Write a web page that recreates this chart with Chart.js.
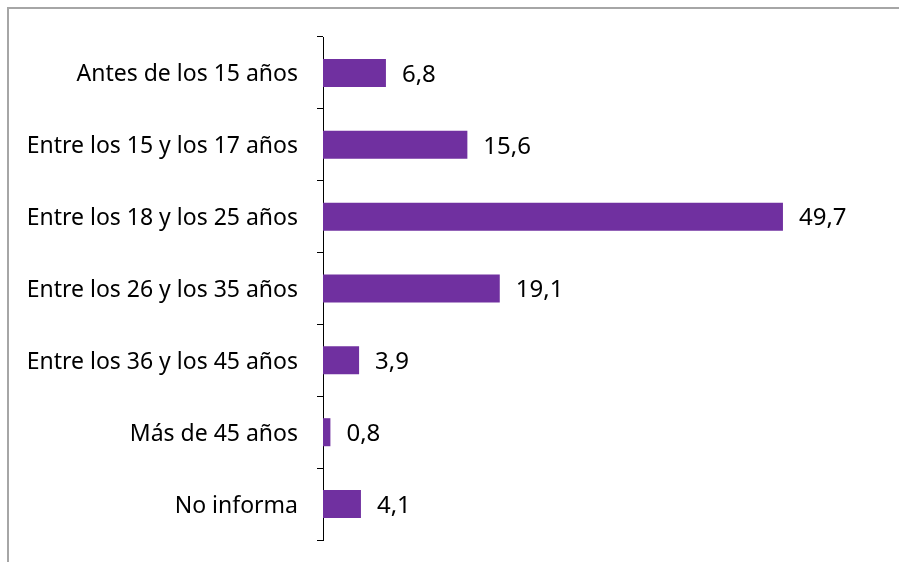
<!DOCTYPE html>
<html>
<head>
<meta charset="utf-8">
<script src="https://cdn.jsdelivr.net/npm/chart.js@4"></script>
<style>
  html, body { margin: 0; background: #fff; overflow: hidden; }
  #wrap { position: relative; width: 899px; height: 562px; overflow: hidden; }
  #frame { position: absolute; left: 7px; top: 7px; width: 900px; height: 560px;
           border-left: 2px solid #a6a6a6; border-top: 2px solid #a6a6a6; }
  canvas { position: absolute; left: 0; top: 0; }
</style>
</head>
<body>
<div id="wrap">
  <div id="frame"></div>
  <canvas id="chart" width="899" height="562"></canvas>
</div>
<script>
// datos del gráfico
const categorias = [
  'Antes de los 15 años',
  'Entre los 15 y los 17 años',
  'Entre los 18 y los 25 años',
  'Entre los 26 y los 35 años',
  'Entre los 36 y los 45 años',
  'Más de 45 años',
  'No informa'
];
const valores = [6.8, 15.6, 49.7, 19.1, 3.9, 0.8, 4.1];

const fuente = '"Noto Sans", sans-serif';

// etiquetas de valor a la derecha de cada barra
const etiquetasValor = {
  id: 'etiquetasValor',
  afterDatasetsDraw(chart) {
    const ctx = chart.ctx;
    const meta = chart.getDatasetMeta(0);
    ctx.save();
    ctx.font = '24px ' + fuente;
    ctx.fillStyle = '#000';
    ctx.textAlign = 'left';
    ctx.textBaseline = 'middle';
    meta.data.forEach((bar, i) => {
      const txt = valores[i].toFixed(1).replace('.', ',');
      ctx.fillText(txt, bar.x + 16, bar.y + 2);
    });
    ctx.restore();
  }
};

const ctx = document.getElementById('chart').getContext('2d');
new Chart(ctx, {
  type: 'bar',
  data: {
    labels: categorias,
    datasets: [{
      data: valores,
      backgroundColor: '#7030a0',
      borderWidth: 0,
      barPercentage: 0.39,
      categoryPercentage: 1
    }]
  },
  options: {
    indexAxis: 'y',
    responsive: false,
    animation: false,
    layout: { padding: { top: 37, bottom: 22, right: 67 } },
    scales: {
      x: { display: false, min: 0, max: 55 },
      y: {
        afterFit(scale) {
          scale.width = 323;
          // sin relleno extra arriba/abajo por las etiquetas
          scale.paddingTop = 0;
          scale.paddingBottom = 0;
        },
        border: { color: '#000', width: 1 },
        grid: { offset: true, drawOnChartArea: false, tickLength: 6, color: '#000' },
        ticks: {
          padding: 19,
          labelOffset: 2,
          color: '#000',
          font: { family: fuente, size: 23 }
        }
      }
    },
    plugins: {
      legend: { display: false },
      tooltip: { enabled: false }
    }
  },
  plugins: [etiquetasValor]
});
</script>
</body>
</html>
